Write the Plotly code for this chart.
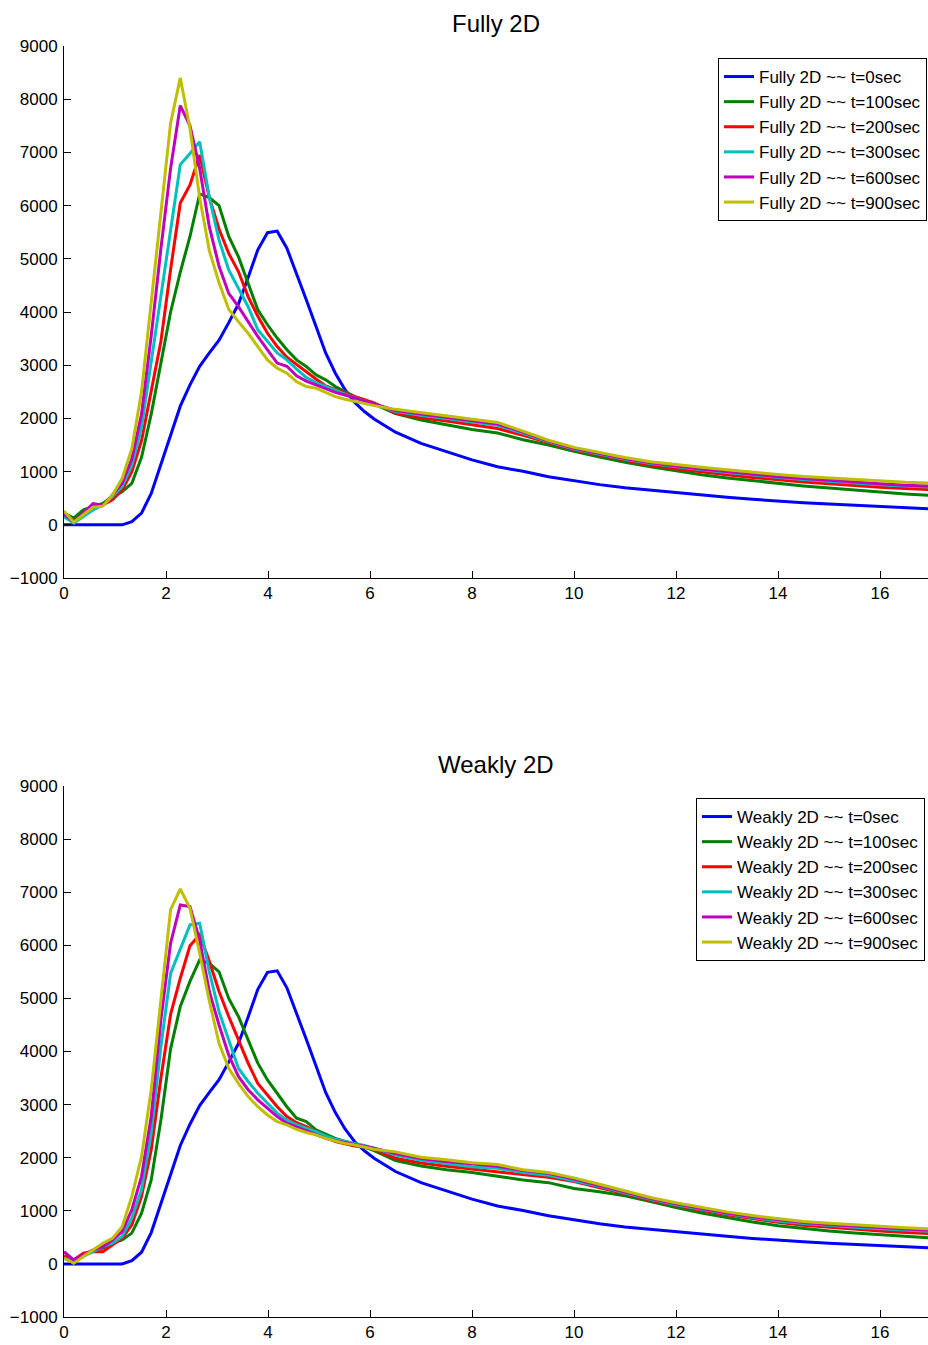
import plotly.graph_objects as go

# x sampling (distance)
x = [0, 0.19, 0.38, 0.57, 0.76, 0.95, 1.14, 1.33, 1.52, 1.71, 1.9, 2.09, 2.28, 2.47,
     2.66, 2.85, 3.04, 3.23, 3.42, 3.61, 3.8, 3.99, 4.18, 4.37, 4.56, 4.75, 4.94, 5.13,
     5.32, 5.51, 5.7, 5.89, 6.08, 6.5, 7.0, 7.5, 8.0, 8.5, 9.0, 9.5, 10.0, 10.5, 11.0,
     11.5, 12.0, 12.5, 13.0, 13.5, 14.0, 14.5, 15.0, 15.5, 16.0, 16.5, 17.0]

x_ticks = [0, 2, 4, 6, 8, 10, 12, 14, 16]
y_ticks = [-1000, 0, 1000, 2000, 3000, 4000, 5000, 6000, 7000, 8000, 9000]

times = ["t=0sec", "t=100sec", "t=200sec", "t=300sec", "t=600sec", "t=900sec"]

# t=0 profile (identical in both panels)
t0 = [0, 0, 0, 0, 0, 0, 0, 60, 220, 590, 1130, 1680, 2230, 2630, 2980, 3230, 3470, 3800,
      4150, 4650, 5170, 5490, 5520, 5200, 4730, 4230, 3730, 3230, 2850, 2540, 2300, 2130,
      1990, 1740, 1530, 1370, 1220, 1090, 1005, 905, 825, 755, 695, 650, 600, 560, 520,
      480, 445, 415, 390, 365, 340, 315, 300]

# ---- Fully 2D ----
f100 = [220, 125, 280, 340, 400, 530, 620, 780, 1270, 2080, 3050, 4000, 4750, 5420, 6220,
        6150, 6000, 5420, 5040, 4540, 4040, 3760, 3510, 3290, 3100, 2975, 2820, 2725, 2600,
        2505, 2410, 2350, 2270, 2090, 1970, 1880, 1790, 1725, 1600, 1500, 1380, 1275, 1175,
        1090, 1010, 940, 880, 830, 775, 730, 690, 650, 615, 580, 550]
f200 = [180, 60, 220, 370, 370, 470, 650, 1000, 1580, 2550, 3450, 4800, 6050, 6390, 6950,
        6150, 5560, 5100, 4760, 4290, 3920, 3600, 3350, 3150, 3010, 2880, 2740, 2610, 2540,
        2475, 2410, 2350, 2290, 2100, 2010, 1950, 1880, 1810, 1680, 1540, 1410, 1310, 1210,
        1120, 1055, 995, 940, 890, 845, 805, 770, 735, 705, 680, 660]
f300 = [150, 30, 155, 280, 370, 530, 715, 1120, 1830, 3070, 4300, 5500, 6770, 6980, 7200,
        6150, 5350, 4790, 4450, 4100, 3665, 3450, 3230, 3100, 2925, 2770, 2675, 2600, 2520,
        2455, 2390, 2330, 2270, 2130, 2060, 2000, 1930, 1870, 1720, 1560, 1425, 1325, 1230,
        1150, 1090, 1035, 985, 935, 890, 850, 815, 785, 755, 730, 710]
f600 = [200, 60, 220, 400, 370, 560, 780, 1240, 2080, 3550, 5190, 6700, 7880, 7500, 6700,
        5600, 4860, 4350, 4100, 3820, 3540, 3290, 3040, 2980, 2800, 2700, 2630, 2550, 2490,
        2440, 2390, 2330, 2270, 2150, 2080, 2020, 1960, 1895, 1745, 1575, 1440, 1340, 1245,
        1165, 1105, 1050, 1000, 950, 905, 870, 835, 800, 770, 745, 725]
f900 = [260, 50, 190, 330, 350, 560, 870, 1430, 2500, 4200, 5900, 7550, 8400, 7450, 6150,
        5150, 4550, 4050, 3820, 3600, 3350, 3100, 2945, 2850, 2690, 2600, 2570, 2490, 2410,
        2360, 2320, 2270, 2240, 2170, 2110, 2050, 1985, 1925, 1760, 1590, 1455, 1360, 1265,
        1185, 1130, 1080, 1035, 985, 945, 910, 880, 850, 820, 800, 785]

# ---- Weakly 2D ----
w100 = [100, 75, 170, 230, 295, 390, 450, 580, 955, 1580, 2710, 4050, 4850, 5320, 5725,
        5660, 5500, 5000, 4660, 4220, 3780, 3465, 3215, 2960, 2745, 2680, 2525, 2440, 2365,
        2305, 2260, 2200, 2135, 1945, 1845, 1775, 1720, 1650, 1580, 1530, 1420, 1360, 1285,
        1175, 1060, 960, 870, 790, 720, 665, 620, 580, 550, 520, 490]
w200 = [150, 75, 200, 230, 230, 360, 485, 735, 1270, 2150, 3500, 4700, 5380, 5990, 6200,
        5700, 5130, 4660, 4220, 3780, 3400, 3180, 2960, 2775, 2660, 2585, 2490, 2380, 2305,
        2260, 2220, 2200, 2160, 1990, 1900, 1840, 1790, 1740, 1680, 1630, 1550, 1440, 1320,
        1200, 1100, 1010, 925, 850, 785, 730, 690, 655, 620, 590, 570]
w300 = [110, 40, 140, 230, 325, 390, 515, 860, 1395, 2460, 4090, 5470, 5945, 6385, 6415,
        5500, 4750, 4200, 3685, 3435, 3215, 3025, 2840, 2710, 2620, 2555, 2490, 2410, 2350,
        2305, 2270, 2230, 2180, 2050, 1950, 1890, 1830, 1800, 1720, 1670, 1570, 1460, 1335,
        1215, 1115, 1025, 945, 875, 810, 760, 720, 690, 660, 630, 610]
w600 = [230, 75, 170, 265, 325, 450, 610, 1020, 1645, 2775, 4600, 6040, 6760, 6730, 6100,
        5130, 4500, 3930, 3530, 3280, 3090, 2930, 2775, 2650, 2575, 2510, 2440, 2365, 2320,
        2285, 2255, 2220, 2180, 2080, 1985, 1930, 1880, 1840, 1760, 1705, 1600, 1480, 1350,
        1230, 1130, 1040, 960, 890, 830, 780, 740, 710, 680, 655, 635]
w900 = [105, 10, 140, 265, 390, 480, 700, 1270, 2020, 3280, 5030, 6670, 7060, 6700, 5850,
        4950, 4155, 3685, 3400, 3150, 2960, 2805, 2680, 2620, 2535, 2475, 2430, 2365, 2315,
        2270, 2240, 2200, 2160, 2110, 2010, 1960, 1905, 1870, 1775, 1720, 1620, 1500, 1370,
        1250, 1150, 1060, 980, 910, 850, 800, 765, 735, 705, 680, 660]

colors = ["#0000FF", "#008000", "#FF0000", "#00BFBF", "#BF00BF", "#BFBF00"]

fully = [t0, f100, f200, f300, f600, f900]
weakly = [t0, w100, w200, w300, w600, w900]

FONT = "Liberation Sans, Arial, Helvetica, sans-serif"

fig = go.Figure()
for ys, c, t in zip(fully, colors, times):
    fig.add_trace(go.Scatter(x=x, y=ys, mode="lines", name="Fully 2D ~~ " + t,
                             line=dict(color=c, width=3), xaxis="x", yaxis="y",
                             legend="legend"))
for ys, c, t in zip(weakly, colors, times):
    fig.add_trace(go.Scatter(x=x, y=ys, mode="lines", name="Weakly 2D ~~ " + t,
                             line=dict(color=c, width=3), xaxis="x2", yaxis="y2",
                             legend="legend2"))

H_PLOT = 1345 - 46 - 28


def py(px):
    return (1317 - px) / H_PLOT


def px_x(px):
    return (px - 64) / 864


axis_common = dict(showline=True, linecolor="black", linewidth=1, ticks="inside",
                   ticklen=7, tickcolor="black", tickwidth=1, showgrid=False,
                   zeroline=False, mirror=False,
                   tickfont=dict(family=FONT, size=17, color="black"))

fig.update_layout(
    width=928, height=1345,
    margin=dict(l=64, r=0, t=46, b=28),
    paper_bgcolor="white", plot_bgcolor="white",
    font=dict(family=FONT, size=17, color="black"),
    xaxis=dict(domain=[0, 1], range=[0, 16.94], tickvals=x_ticks, anchor="y",
               **axis_common),
    yaxis=dict(domain=[py(578), 1], range=[-1000, 9000], tickvals=y_ticks, anchor="x",
               ticklabelstandoff=2, **axis_common),
    xaxis2=dict(domain=[0, 1], range=[0, 16.94], tickvals=x_ticks, anchor="y2",
                **axis_common),
    yaxis2=dict(domain=[0, py(786)], range=[-1000, 9000], tickvals=y_ticks, anchor="x2",
                ticklabelstandoff=2, **axis_common),
    legend=dict(x=px_x(927), xanchor="right", y=py(58), yanchor="top",
                bordercolor="black", borderwidth=1, bgcolor="white",
                font=dict(family=FONT, size=17, color="black")),
    legend2=dict(x=px_x(925), xanchor="right", y=py(798), yanchor="top",
                 bordercolor="black", borderwidth=1, bgcolor="white",
                 font=dict(family=FONT, size=17, color="black")),
    annotations=[
        dict(text="Fully 2D", x=0.5, xref="paper", y=py(24), yref="paper",
             xanchor="center", yanchor="middle", showarrow=False,
             font=dict(family=FONT, size=24, color="black")),
        dict(text="Weakly 2D", x=0.5, xref="paper", y=py(764), yref="paper",
             xanchor="center", yanchor="middle", showarrow=False,
             font=dict(family=FONT, size=24, color="black")),
    ],
)

fig.write_html("out.html")
